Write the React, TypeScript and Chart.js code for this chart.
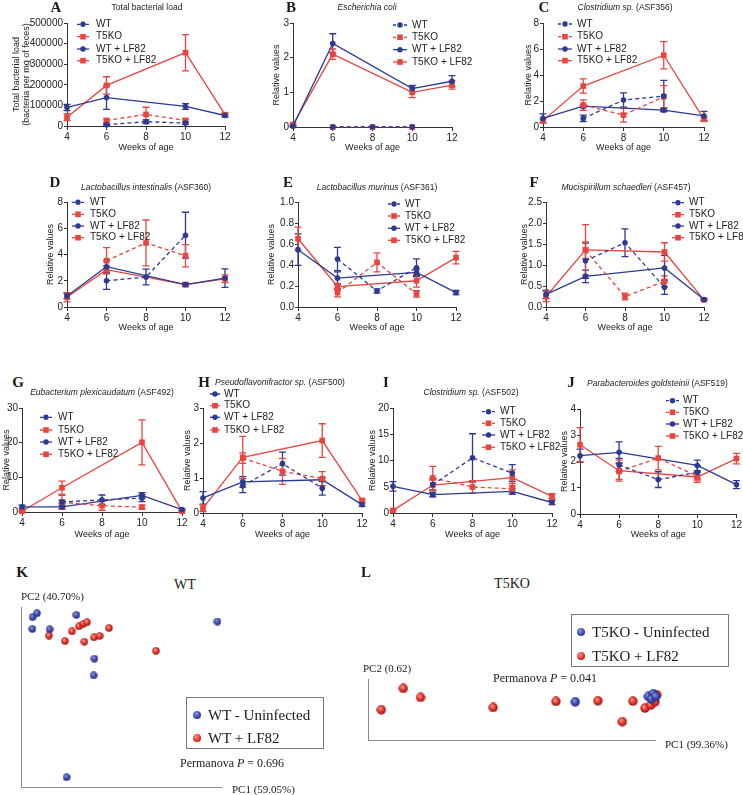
import React, { useEffect, useRef } from 'react';
import { Chart, registerables } from 'chart.js';

Chart.register(...registerables);

const SANS = "'Liberation Sans', Arial, Helvetica, sans-serif";
const SERIF = "'Liberation Serif', 'Times New Roman', serif";
Chart.defaults.font.family = SANS;

const BLUE = '#2c3a91';
const RED = '#e8453f';
const AX = '#333333';

const weeks = [4, 6, 8, 10, 12];
const seriesNames = ['WT', 'T5KO', 'WT + LF82', 'T5KO + LF82'];

// ---- A: Total bacterial load
const A_wt = [null, 6000, 21000, 14000, null];
const A_wtErr = [null, 4000, 9000, 6000, null];
const A_ko = [null, 27000, 56000, 27000, null];
const A_koErr = [null, 8000, 35000, 8000, null];
const A_wtLf = [90000, 138000, null, 95000, 51000];
const A_wtLfErr = [15000, 57000, null, 14000, 8000];
const A_koLf = [43000, 197000, null, 356000, 55000];
const A_koLfErr = [17000, 42000, null, 88000, 8000];
// ---- B: Escherichia coli
const B_wt = [null, 0, 0, 0, null];
const B_wtErr = [null, 0, 0, 0, null];
const B_ko = [null, 0, 0, 0, null];
const B_koErr = [null, 0, 0, 0, null];
const B_wtLf = [0.02, 2.41, null, 1.11, 1.32];
const B_wtLfErr = [0.03, 0.28, null, 0.09, 0.16];
const B_koLf = [0.07, 2.1, null, 1.0, 1.21];
const B_koLfErr = [0.05, 0.15, null, 0.15, 0.12];
// ---- C: Clostridium sp. (ASF356)
const C_wt = [null, 0.66, 2.07, 2.38, null];
const C_wtErr = [null, 0.25, 0.55, 1.2, null];
const C_ko = [null, 1.69, 0.92, 2.33, null];
const C_koErr = [null, 0.4, 0.55, 0.85, null];
const C_wtLf = [0.66, 1.6, null, 1.3, 0.85];
const C_wtLfErr = [0.35, 0.1, null, 0.12, 0.35];
const C_koLf = [0.49, 3.15, null, 5.52, 0.59];
const C_koLfErr = [0.15, 0.55, null, 1.05, 0.15];
// ---- D: Lactobacillus intestinalis (ASF360)
const D_wt = [null, 2.0, 2.28, 5.47, null];
const D_wtErr = [null, 0.65, 0.6, 1.75, null];
const D_ko = [null, 3.53, 4.88, 3.91, null];
const D_koErr = [null, 1.0, 1.75, 0.85, null];
const D_wtLf = [0.84, 3.07, null, 1.71, 2.2];
const D_wtLfErr = [0.2, 0.45, null, 0.15, 0.7];
const D_koLf = [0.74, 2.84, null, 1.71, 2.15];
const D_koLfErr = [0.35, 0.3, null, 0.1, 0.3];
// ---- E: Lactobacillus murinus (ASF361)
const E_wt = [null, 0.457, 0.153, 0.374, null];
const E_wtErr = [null, 0.11, 0.02, 0.085, null];
const E_ko = [null, 0.137, 0.425, 0.125, null];
const E_koErr = [null, 0.04, 0.09, 0.03, null];
const E_wtLf = [0.546, 0.275, null, 0.33, 0.137];
const E_wtLfErr = [0.15, 0.06, null, 0.03, 0.02];
const E_koLf = [0.65, 0.195, null, 0.25, 0.47];
const E_koLfErr = [0.11, 0.03, null, 0.06, 0.06];
// ---- F: Mucispirillum schaedleri (ASF457)
const F_wt = [null, 1.1, 1.53, 0.47, null];
const F_wtErr = [null, 0.42, 0.33, 0.17, null];
const F_ko = [null, 1.35, 0.25, 0.61, null];
const F_koErr = [null, 0.2, 0.08, 0.13, null];
const F_wtLf = [0.3, 0.73, null, 0.93, 0.18];
const F_wtLfErr = [0.1, 0.15, null, 0.3, 0.02];
const F_koLf = [0.25, 1.36, null, 1.31, 0.17];
const F_koLfErr = [0.12, 0.6, null, 0.22, 0.02];
// ---- G: Eubacterium plexicaudatum (ASF492)
const G_wt = [null, 2.9, 3.5, 4.0, null];
const G_wtErr = [null, 0.5, 1.4, 1.0, null];
const G_ko = [null, 2.8, 1.8, 1.4, null];
const G_koErr = [null, 2.0, 1.3, 0.6, null];
const G_wtLf = [1.5, 1.5, null, 4.8, 0.7];
const G_wtLfErr = [0.5, 0.4, null, 0.8, 0.3];
const G_koLf = [0.2, 7.0, null, 20.1, 0.2];
const G_koLfErr = [0.2, 1.9, null, 6.5, 0.2];
// ---- H: Pseudoflavonifractor sp. (ASF500)
const H_wt = [null, 0.78, 1.41, 0.71, null];
const H_wtErr = [null, 0.2, 0.33, 0.2, null];
const H_ko = [null, 1.57, 1.19, 0.98, null];
const H_koErr = [null, 0.15, 0.37, 0.2, null];
const H_wtLf = [0.43, 0.89, null, 0.95, 0.24];
const H_wtLfErr = [0.18, 0.15, null, 0.05, 0.05];
const H_koLf = [0.14, 1.59, null, 2.07, 0.36];
const H_koLfErr = [0.1, 0.6, null, 0.48, 0.04];
// ---- I: Clostridium sp. (ASF502)
const I_wt = [null, 5.4, 10.5, 7.6, null];
const I_wtErr = [null, 1.2, 4.6, 1.6, null];
const I_ko = [null, 6.67, 4.95, 4.6, null];
const I_koErr = [null, 2.2, 1.2, 1.0, null];
const I_wtLf = [5.08, 3.5, null, 4.1, 2.0];
const I_wtLfErr = [0.9, 0.4, null, 0.5, 0.4];
const I_koLf = [0.5, 5.33, null, 6.73, 3.17];
const I_koLfErr = [0.1, 1.0, null, 1.5, 0.5];
// ---- J: Parabacteroides goldsteinii (ASF519)
const J_wt = [null, 1.87, 1.31, 1.59, null];
const J_wtErr = [null, 0.25, 0.3, 0.25, null];
const J_ko = [null, 1.62, 2.13, 1.44, null];
const J_koErr = [null, 0.3, 0.45, 0.15, null];
const J_wtLf = [2.22, 2.35, null, 1.85, 1.12];
const J_wtLfErr = [0.25, 0.4, null, 0.2, 0.15];
const J_koLf = [2.64, 1.65, null, 1.41, 2.11];
const J_koLfErr = [0.65, 0.4, null, 0.2, 0.2];

// ---- K: PCoA WT (PC1, PC2 scores, scaled 0-100)
const K_uninfPC1 = [5.8, 8.0, 5.7, 14.3, 27.7, 98.2, 36.7, 36.3, 22.8];
const K_uninfPC2 = [94.4, 96.5, 87.8, 87.6, 95.6, 91.9, 71.3, 62.0, 5.4];
const K_lf82PC1 = [14.0, 22.0, 25.5, 29.0, 31.2, 33.0, 31.7, 36.5, 39.3, 44.0, 67.5];
const K_lf82PC2 = [84.1, 81.1, 86.5, 89.3, 90.6, 91.5, 80.7, 83.1, 83.9, 88.3, 75.6];
// ---- L: PCoA T5KO
const L_uninfPC1 = [72.2, 97.7, 99.4, 98.8, 100.2];
const L_uninfPC2 = [62.6, 71.4, 75.8, 67.0, 71.4];
const L_lf82PC1 = [4.65, 12.3, 18.3, 43.6, 65.5, 80.1, 92.3, 88.6, 96.5, 98.5, 100.0, 100.6];
const L_lf82PC2 = [49.5, 84.6, 69.8, 53.3, 63.2, 64.3, 63.7, 30.2, 52.2, 57.1, 62.6, 74.2];

type Series = { wt: any[]; wtErr: any[]; ko: any[]; koErr: any[]; wtLf: any[]; wtLfErr: any[]; koLf: any[]; koLfErr: any[] };

const errorBarPlugin = {
  id: 'errorBars',
  beforeDatasetsDraw(chart: any) {
    const ctx = chart.ctx;
    const yScale = chart.scales.y;
    chart.data.datasets.forEach((ds: any, i: number) => {
      const errs = ds.errors;
      if (!errs) return;
      const meta = chart.getDatasetMeta(i);
      ctx.save();
      ctx.strokeStyle = ds.borderColor;
      ctx.lineWidth = 1.3;
      ctx.setLineDash([]);
      ds.data.forEach((pt: any, j: number) => {
        if (pt.y == null || !errs[j]) return;
        const el = meta.data[j];
        if (!el) return;
        const x = el.x;
        const yt = yScale.getPixelForValue(pt.y + errs[j]);
        const yb = yScale.getPixelForValue(Math.max(0, pt.y - errs[j]));
        ctx.beginPath();
        ctx.moveTo(x, yt); ctx.lineTo(x, yb);
        ctx.moveTo(x - 3.5, yt); ctx.lineTo(x + 3.5, yt);
        ctx.moveTo(x - 3.5, yb); ctx.lineTo(x + 3.5, yb);
        ctx.stroke();
      });
      ctx.restore();
    });
  },
};

// legend geometry (page coords) is kept per panel in LEGENDS, read by id
const LEGENDS: Record<string, { x0: number; x1: number; tx: number; rows: number[]; ox: number; oy: number }> = {};

const legendPlugin = {
  id: 'panelLegend',
  afterDraw(chart: any) {
    const opts = LEGENDS[chart.canvas.dataset.panel];
    if (!opts) return;
    const ctx = chart.ctx;
    chart.data.datasets.forEach((ds: any, i: number) => {
      const y = opts.rows[i] - opts.oy;
      const x0 = opts.x0 - opts.ox;
      const x1 = opts.x1 - opts.ox;
      const tx = opts.tx - opts.ox;
      const cx = (x0 + x1) / 2;
      ctx.save();
      ctx.strokeStyle = ds.borderColor;
      ctx.lineWidth = 1.3;
      ctx.setLineDash([]);
      ctx.beginPath();
      if (ds.borderDash && ds.borderDash.length) {
        ctx.moveTo(x0, y); ctx.lineTo(x0 + 3, y);
        ctx.moveTo(x1 - 3, y); ctx.lineTo(x1, y);
      } else {
        ctx.moveTo(x0, y); ctx.lineTo(x1, y);
      }
      ctx.stroke();
      ctx.fillStyle = ds.borderColor;
      if (ds.pointStyle === 'rect') {
        ctx.fillRect(cx - 2.8, y - 2.8, 5.6, 5.6);
      } else {
        ctx.beginPath(); ctx.arc(cx, y, 2.7, 0, Math.PI * 2); ctx.fill();
      }
      ctx.fillStyle = '#222';
      ctx.font = `10px ${SANS}`;
      ctx.textBaseline = 'middle';
      ctx.textAlign = 'left';
      ctx.fillText(ds.label, tx, y);
      ctx.restore();
    });
  },
};

type PanelSpec = {
  letter: string; lx: number; ly: number;
  title: React.ReactNode; tx: number; ty: number; tAlign: 'center' | 'left';
  plotL: number; plotR: number; plotT: number; plotB: number;
  yTitleX: number; xTitleY: number; yTitle: string | string[];
  yMax: number; yStep: number; yDec: number;
  legend: { x0: number; x1: number; tx: number; rows: number[] };
  s: Series;
};

const panels: PanelSpec[] = [
  { letter: 'A', lx: 56, ly: 7, title: 'Total bacterial load', tx: 147, ty: 7, tAlign: 'center',
    plotL: 67, plotR: 225, plotT: 23, plotB: 126, yTitleX: 17, xTitleY: 147,
    yTitle: ['Total bacterial load', '(bacteria per mg of feces)'], yMax: 500000, yStep: 100000, yDec: 0,
    legend: { x0: 77, x1: 89, tx: 96, rows: [24.3, 36.7, 49, 60.7] },
    s: { wt: A_wt, wtErr: A_wtErr, ko: A_ko, koErr: A_koErr, wtLf: A_wtLf, wtLfErr: A_wtLfErr, koLf: A_koLf, koLfErr: A_koLfErr } },
  { letter: 'B', lx: 291, ly: 7, title: <i>Escherichia coli</i>, tx: 367, ty: 7, tAlign: 'center',
    plotL: 293, plotR: 452, plotT: 23, plotB: 127, yTitleX: 277, xTitleY: 147,
    yTitle: 'Relative values', yMax: 3, yStep: 1, yDec: 0,
    legend: { x0: 393, x1: 407, tx: 412, rows: [25, 37.3, 49.7, 62] },
    s: { wt: B_wt, wtErr: B_wtErr, ko: B_ko, koErr: B_koErr, wtLf: B_wtLf, wtLfErr: B_wtLfErr, koLf: B_koLf, koLfErr: B_koLfErr } },
  { letter: 'C', lx: 544, ly: 7, title: <><i>Clostridium sp.</i> (ASF356)</>, tx: 625, ty: 7, tAlign: 'center',
    plotL: 543, plotR: 704, plotT: 23, plotB: 127, yTitleX: 529, xTitleY: 147,
    yTitle: 'Relative values', yMax: 8, yStep: 2, yDec: 0,
    legend: { x0: 558, x1: 572, tx: 577, rows: [24, 36.7, 49, 60.7] },
    s: { wt: C_wt, wtErr: C_wtErr, ko: C_ko, koErr: C_koErr, wtLf: C_wtLf, wtLfErr: C_wtLfErr, koLf: C_koLf, koLfErr: C_koLfErr } },
  { letter: 'D', lx: 55, ly: 182, title: <><i>Lactobacillus intestinalis</i> (ASF360)</>, tx: 146, ty: 187, tAlign: 'center',
    plotL: 67, plotR: 225, plotT: 202, plotB: 307, yTitleX: 51, xTitleY: 327,
    yTitle: 'Relative values', yMax: 8, yStep: 2, yDec: 0,
    legend: { x0: 72, x1: 84, tx: 90, rows: [202.3, 214.3, 226, 237.7] },
    s: { wt: D_wt, wtErr: D_wtErr, ko: D_ko, koErr: D_koErr, wtLf: D_wtLf, wtLfErr: D_wtLfErr, koLf: D_koLf, koLfErr: D_koLfErr } },
  { letter: 'E', lx: 288, ly: 182, title: <><i>Lactobacillus murinus</i> (ASF361)</>, tx: 377, ty: 187, tAlign: 'center',
    plotL: 298, plotR: 456, plotT: 202, plotB: 307, yTitleX: 272, xTitleY: 327,
    yTitle: 'Relative values', yMax: 1, yStep: 0.2, yDec: 1,
    legend: { x0: 388, x1: 400, tx: 405, rows: [204, 216, 228.3, 240.3] },
    s: { wt: E_wt, wtErr: E_wtErr, ko: E_ko, koErr: E_koErr, wtLf: E_wtLf, wtLfErr: E_wtLfErr, koLf: E_koLf, koLfErr: E_koLfErr } },
  { letter: 'F', lx: 534, ly: 182, title: <><i>Mucispirillum schaedleri</i> (ASF457)</>, tx: 626, ty: 187, tAlign: 'center',
    plotL: 546, plotR: 704, plotT: 202, plotB: 307, yTitleX: 525, xTitleY: 327,
    yTitle: 'Relative values', yMax: 2.5, yStep: 0.5, yDec: 1,
    legend: { x0: 672, x1: 684, tx: 689, rows: [202.7, 214.7, 226, 237.7] },
    s: { wt: F_wt, wtErr: F_wtErr, ko: F_ko, koErr: F_koErr, wtLf: F_wtLf, wtLfErr: F_wtLfErr, koLf: F_koLf, koLfErr: F_koLfErr } },
  { letter: 'G', lx: 18, ly: 382, title: <><i>Eubacterium plexicaudatum</i> (ASF492)</>, tx: 102, ty: 392, tAlign: 'center',
    plotL: 22, plotR: 182, plotT: 408, plotB: 512, yTitleX: 7, xTitleY: 534,
    yTitle: 'Relative values', yMax: 30, yStep: 10, yDec: 0,
    legend: { x0: 40, x1: 52, tx: 58, rows: [417.3, 430, 442, 454.3] },
    s: { wt: G_wt, wtErr: G_wtErr, ko: G_ko, koErr: G_koErr, wtLf: G_wtLf, wtLfErr: G_wtLfErr, koLf: G_koLf, koLfErr: G_koLfErr } },
  { letter: 'H', lx: 204, ly: 382, title: <><i>Pseudoflavonifractor sp.</i> (ASF500)</>, tx: 215, ty: 382, tAlign: 'left',
    plotL: 203, plotR: 362, plotT: 408, plotB: 513, yTitleX: 188, xTitleY: 534,
    yTitle: 'Relative values', yMax: 3, yStep: 1, yDec: 0,
    legend: { x0: 210, x1: 220, tx: 224, rows: [394, 405.7, 417.3, 430] },
    s: { wt: H_wt, wtErr: H_wtErr, ko: H_ko, koErr: H_koErr, wtLf: H_wtLf, wtLfErr: H_wtLfErr, koLf: H_koLf, koLfErr: H_koLfErr } },
  { letter: 'I', lx: 386, ly: 382, title: <><i>Clostridium sp.</i> (ASF502)</>, tx: 471, ty: 392, tAlign: 'center',
    plotL: 393, plotR: 552, plotT: 408, plotB: 513, yTitleX: 373, xTitleY: 534,
    yTitle: 'Relative values', yMax: 20, yStep: 5, yDec: 0,
    legend: { x0: 482, x1: 495, tx: 500, rows: [411.7, 423.3, 435, 447.3] },
    s: { wt: I_wt, wtErr: I_wtErr, ko: I_ko, koErr: I_koErr, wtLf: I_wtLf, wtLfErr: I_wtLfErr, koLf: I_koLf, koLfErr: I_koLfErr } },
  { letter: 'J', lx: 571, ly: 382, title: <><i>Parabacteroides goldsteinii</i> (ASF519)</>, tx: 587, ty: 383, tAlign: 'left',
    plotL: 580, plotR: 738, plotT: 409, plotB: 514, yTitleX: 565, xTitleY: 534,
    yTitle: 'Relative values', yMax: 4, yStep: 1, yDec: 0,
    legend: { x0: 666, x1: 679, tx: 683, rows: [400.7, 412.3, 424, 436] },
    s: { wt: J_wt, wtErr: J_wtErr, ko: J_ko, koErr: J_koErr, wtLf: J_wtLf, wtLfErr: J_wtLfErr, koLf: J_koLf, koLfErr: J_koLfErr } },
];

function LinePanel({ p }: { p: PanelSpec }) {
  const ref = useRef<HTMLCanvasElement>(null);
  const cl = Math.round(p.yTitleX - 5.2);
  const ct = Math.min(p.plotT - 12, Math.floor(p.legend.rows[0] - 14));
  const cr = Math.min(743, p.plotR + 45);
  const cb = Math.round(p.xTitleY + 5.5);
  const w = cr - cl;
  const h = cb - ct;
  LEGENDS[p.letter] = { ...p.legend, ox: cl, oy: ct };
  useEffect(() => {
    const mk = (label: string, vals: any[], errs: any[], color: string, dashed: boolean, square: boolean) => ({
      label,
      data: weeks.map((wk, j) => ({ x: wk, y: vals[j] })),
      errors: errs,
      borderColor: color,
      backgroundColor: color,
      borderWidth: 1.3,
      borderDash: dashed ? [4, 3] : [],
      pointStyle: square ? 'rect' : 'circle',
      pointRadius: square ? 4 : 2.8,
      pointBorderWidth: 0,
      spanGaps: true,
      clip: false,
      tension: 0,
    });
    const chart = new Chart(ref.current as HTMLCanvasElement, {
      type: 'line',
      data: {
        datasets: [
          mk(seriesNames[0], p.s.wt, p.s.wtErr, BLUE, true, false),
          mk(seriesNames[1], p.s.ko, p.s.koErr, RED, true, true),
          mk(seriesNames[2], p.s.wtLf, p.s.wtLfErr, BLUE, false, false),
          mk(seriesNames[3], p.s.koLf, p.s.koLfErr, RED, false, true),
        ] as any,
      },
      options: {
        responsive: false,
        animation: false,
        events: [],
        layout: { padding: { left: 0, top: p.plotT - ct, right: cr - p.plotR, bottom: 0 } },
        plugins: {
          legend: { display: false },
          tooltip: { enabled: false },
        } as any,
        scales: {
          x: {
            type: 'linear', min: 4, max: 12,
            ticks: { stepSize: 2, padding: 1, color: '#222', font: { size: 10 }, callback: (v: any) => String(v) },
            grid: { display: true, drawOnChartArea: false, drawTicks: true, tickLength: 4, color: AX, lineWidth: 1 },
            border: { display: true, color: AX, width: 1 },
            title: { display: true, text: 'Weeks of age', color: '#222', padding: 0, font: { size: 9, lineHeight: 1.15 } },
            afterFit: (s: any) => { s.height = cb - p.plotB; },
          },
          y: {
            type: 'linear', min: 0, max: p.yMax,
            ticks: { stepSize: p.yStep, padding: 1, color: '#222', font: { size: 10 }, callback: (v: any) => Number(v).toFixed(p.yDec) },
            grid: { display: true, drawOnChartArea: false, drawTicks: true, tickLength: 3, color: AX, lineWidth: 1 },
            border: { display: true, color: AX, width: 1 },
            title: { display: true, text: p.yTitle, color: '#222', padding: 0, font: { size: 9, lineHeight: 1.1 } },
            afterFit: (s: any) => { s.width = p.plotL - cl; },
          },
        } as any,
      },
      plugins: [errorBarPlugin, legendPlugin] as any,
    });
    return () => chart.destroy();
  }, []);
  return <canvas ref={ref} data-panel={p.letter} width={w} height={h} style={{ position: 'absolute', left: cl, top: ct, width: w, height: h }} />;
}

function makeSphere(d: number, light: string, mid: string, dark: string) {
  const c = document.createElement('canvas');
  c.width = d; c.height = d;
  const g = c.getContext('2d') as CanvasRenderingContext2D;
  const r = d / 2;
  const grad = g.createRadialGradient(r * 0.75, r * 0.65, r * 0.1, r, r, r);
  grad.addColorStop(0, light);
  grad.addColorStop(0.55, mid);
  grad.addColorStop(1, dark);
  g.fillStyle = grad;
  g.beginPath(); g.arc(r, r, r - 0.3, 0, Math.PI * 2); g.fill();
  return c;
}

const SPH_BLUE = ['#8a95e0', '#3a49ad', '#1f2a78'];
const SPH_RED = ['#ff9a88', '#e0302a', '#9e1010'];

type ScatterSpec = {
  left: number; top: number; width: number; height: number;
  plotL: number; plotR: number; plotT: number; plotB: number; d: number;
  bx: number[]; by: number[]; rx: number[]; ry: number[];
};

function ScatterPanel({ s }: { s: ScatterSpec }) {
  const ref = useRef<HTMLCanvasElement>(null);
  useEffect(() => {
    const blue = makeSphere(s.d, SPH_BLUE[0], SPH_BLUE[1], SPH_BLUE[2]);
    const red = makeSphere(s.d, SPH_RED[0], SPH_RED[1], SPH_RED[2]);
    const chart = new Chart(ref.current as HTMLCanvasElement, {
      type: 'scatter',
      data: {
        datasets: [
          { data: s.bx.map((x, i) => ({ x, y: s.by[i] })), pointStyle: blue, pointRadius: s.d / 2, clip: false } as any,
          { data: s.rx.map((x, i) => ({ x, y: s.ry[i] })), pointStyle: red, pointRadius: s.d / 2, clip: false } as any,
        ],
      },
      options: {
        responsive: false,
        animation: false,
        events: [],
        layout: { padding: { left: s.plotL - s.left, right: s.left + s.width - s.plotR, top: s.plotT - s.top, bottom: s.top + s.height - s.plotB } },
        plugins: { legend: { display: false }, tooltip: { enabled: false } },
        scales: {
          x: { type: 'linear', min: 0, max: 100, ticks: { display: false }, grid: { display: false }, border: { display: true, color: '#8a8a8a', width: 1 }, afterFit: (sc: any) => { sc.height = 0; } },
          y: { type: 'linear', min: 0, max: 100, ticks: { display: false }, grid: { display: false }, border: { display: true, color: '#8a8a8a', width: 1 }, afterFit: (sc: any) => { sc.width = 0; } },
        } as any,
      },
    });
    return () => chart.destroy();
  }, []);
  return <canvas ref={ref} width={s.width} height={s.height} style={{ position: 'absolute', left: s.left, top: s.top, width: s.width, height: s.height }} />;
}

const scatterK: ScatterSpec = { left: 0, top: 595, width: 240, height: 200, plotL: 21, plotR: 221, plotT: 607, plotB: 787, d: 8,
  bx: K_uninfPC1, by: K_uninfPC2, rx: K_lf82PC1, ry: K_lf82PC2 };
const scatterL: ScatterSpec = { left: 360, top: 665, width: 310, height: 85, plotL: 368, plotR: 655, plotT: 679, plotB: 740, d: 10,
  bx: L_uninfPC1, by: L_uninfPC2, rx: L_lf82PC1, ry: L_lf82PC2 };

function Txt({ x, y, align = 'center', size, family = SANS, weight = 'normal', children }: any) {
  const tx = align === 'center' ? '-50%' : align === 'right' ? '-100%' : '0';
  return (
    <div style={{ position: 'absolute', left: x, top: y, transform: `translate(${tx}, -50%)`, whiteSpace: 'nowrap', lineHeight: 1,
      fontSize: size, fontFamily: family, fontWeight: weight, color: '#1a1a1a', pointerEvents: 'none' }}>{children}</div>
  );
}

function Dot({ colors, d }: { colors: string[]; d: number }) {
  return (
    <span style={{ display: 'inline-block', width: d, height: d, borderRadius: '50%', verticalAlign: 'middle',
      background: `radial-gradient(circle at 38% 33%, ${colors[0]} 0%, ${colors[1]} 55%, ${colors[2]} 100%)` }} />
  );
}

function LegendBox({ x, y, w, h, rows, labels, dotX, textX }: any) {
  return (
    <div style={{ position: 'absolute', left: x, top: y, width: w, height: h, border: '1px solid #777', boxSizing: 'border-box' }}>
      {labels.map((lab: string, i: number) => (
        <React.Fragment key={lab}>
          <div style={{ position: 'absolute', left: dotX - x - 4, top: rows[i] - y - 4, lineHeight: 0 }}>
            <Dot colors={i === 0 ? SPH_BLUE : SPH_RED} d={8} />
          </div>
          <div style={{ position: 'absolute', left: textX - x, top: rows[i] - y, transform: 'translateY(-50%)', fontFamily: SERIF, fontSize: 15, lineHeight: 1, whiteSpace: 'nowrap', color: '#1a1a1a' }}>{lab}</div>
        </React.Fragment>
      ))}
    </div>
  );
}

export default function App() {
  return (
    <div style={{ position: 'absolute', left: 0, top: 0, width: 743, height: 795, overflow: 'hidden', background: '#fff' }}>
      {panels.map((p) => (
        <LinePanel key={p.letter} p={p} />
      ))}
      {panels.map((p) => (
        <React.Fragment key={'t' + p.letter}>
          <Txt x={p.lx} y={p.ly} size={15} family={SERIF} weight="bold">{p.letter}</Txt>
          <Txt x={p.tx} y={p.ty} size={8.5} align={p.tAlign}>{p.title}</Txt>
        </React.Fragment>
      ))}

      <ScatterPanel s={scatterK} />
      <Txt x={22} y={572} size={15} family={SERIF} weight="bold">K</Txt>
      <Txt x={185} y={585} size={14} family={SERIF}>WT</Txt>
      <Txt x={21} y={596} size={11} family={SERIF} align="left">PC2 (40.70%)</Txt>
      <Txt x={232} y={789} size={11} family={SERIF} align="left">PC1 (59.05%)</Txt>
      <LegendBox x={186} y={697} w={138} h={52} rows={[714, 737]} labels={['WT - Uninfected', 'WT + LF82']} dotX={196} textX={207} />
      <Txt x={180} y={763} size={12} family={SERIF} align="left">Permanova <i>P</i> = 0.696</Txt>

      <ScatterPanel s={scatterL} />
      <Txt x={366} y={572} size={15} family={SERIF} weight="bold">L</Txt>
      <Txt x={512} y={584} size={14} family={SERIF}>T5KO</Txt>
      <Txt x={363} y={668} size={11} family={SERIF} align="left">PC2 (0.62)</Txt>
      <Txt x={665} y={744} size={11} family={SERIF} align="left">PC1 (99.36%)</Txt>
      <LegendBox x={571} y={614} w={158} h={53} rows={[631, 655]} labels={['T5KO - Uninfected', 'T5KO + LF82']} dotX={580} textX={591} />
      <Txt x={493} y={678} size={12} family={SERIF} align="left">Permanova <i>P</i> = 0.041</Txt>
    </div>
  );
}
